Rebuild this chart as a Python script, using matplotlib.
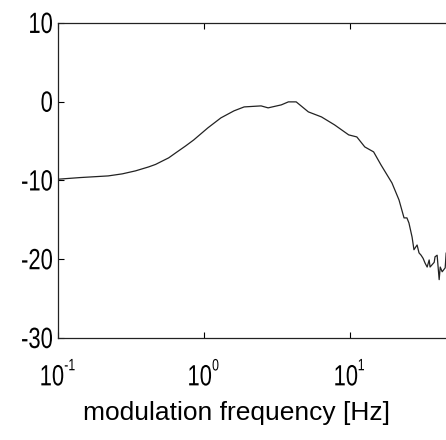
import numpy as np
import matplotlib
matplotlib.use('Agg')
import matplotlib.pyplot as plt
from matplotlib.textpath import TextPath
from matplotlib.patches import PathPatch
from matplotlib.path import Path
from matplotlib.font_manager import FontProperties
from matplotlib.transforms import Affine2D, IdentityTransform

# Frecuencia de modulación (Hz) y respuesta (dB)
freq = [0.100, 0.142, 0.221, 0.276, 0.340, 0.418, 0.467, 0.522, 0.574, 0.641,
        0.751, 0.853, 1.066, 1.31, 1.61, 1.89, 2.47, 2.76, 3.40, 3.80,
        4.30, 5.21, 6.41, 7.88, 9.85, 11.2, 12.7, 14.6, 16.4, 19.5,
        21.8, 23.6, 24.7, 25.5, 26.8, 27.6, 29.0, 29.9, 30.9, 31.9,
        32.9, 34.0, 35.1, 35.6, 38.0, 38.5, 39.8, 41.1, 41.8, 43.1,
        45.2, 45.9, 47.4]
gain_db = [-9.85, -9.64, -9.43, -9.17, -8.79, -8.29, -7.97, -7.52, -7.14, -6.51,
           -5.62, -4.86, -3.33, -2.06, -1.17, -0.67, -0.54, -0.79, -0.41, -0.03,
           -0.03, -1.30, -1.94, -2.95, -4.22, -4.48, -5.75, -6.38, -8.03, -10.32,
           -12.48, -14.76, -14.76, -15.4, -17.2, -18.8, -18.2, -19.2, -19.5, -19.9,
           -20.5, -21.0, -20.1, -21.0, -20.4, -19.7, -19.5, -22.6, -21.0, -21.6,
           -21.1, -19.2, -19.1]

y_ticks = [10, 0, -10, -20, -30]
x_ticks = [0.1, 1, 10]
x_exponents = ['-1', '0', '1']

fp = FontProperties(family='Liberation Sans')
NARROW = 0.75  # las etiquetas del original salen comprimidas


def label_path(main, sup=None, size=29.3, sup_size=16.5):
    # texto estrecho hecho con TextPath (no hay fuente "narrow" instalada)
    p = TextPath((0, 0), main, size=size, prop=fp)
    p = Affine2D().scale(NARROW, 1).transform_path(p)
    if sup is None:
        return p
    e = p.get_extents()
    q = TextPath((0, 0), sup, size=sup_size, prop=fp)
    q = Affine2D().scale(NARROW, 1).transform_path(q)
    qe = q.get_extents()
    q = Affine2D().translate(e.x1 + 1.5 - qe.x0, e.y1 + 6 - qe.y1).transform_path(q)
    return Path.make_compound_path(p, q), e


def put(fig, path, dx, dy):
    fig.add_artist(PathPatch(Affine2D().translate(dx, dy).transform_path(path),
                             facecolor='black', edgecolor='none', lw=0,
                             transform=IdentityTransform()))


fig = plt.figure(figsize=(4.46, 4.40), dpi=100)
ax = fig.add_axes([0.130, 0.232, 0.875, 0.716])

ax.plot(freq, gain_db, color='#222222', lw=0.9)

ax.set_xscale('log')
ax.set_xlim(0.1, 10 ** 1.676)
ax.set_ylim(-30, 10)
ax.set_xticks(x_ticks)
ax.xaxis.set_minor_locator(matplotlib.ticker.NullLocator())
ax.set_yticks(y_ticks)
ax.tick_params(axis='both', direction='in', length=4, width=0.8,
               top=True, right=False, labelleft=False, labelbottom=False)
for s in ax.spines.values():
    s.set_linewidth(0.9)
    s.set_color('#222222')
ax.spines['right'].set_visible(False)

# etiquetas del eje y
for v in y_ticks:
    x0, y0 = ax.transData.transform((x_ticks[0], v))
    p = label_path(str(v))
    e = p.get_extents()
    put(fig, p, x0 - 6 - e.x1, y0 - (e.y0 + e.y1) / 2)

# etiquetas del eje x (10 con exponente)
ybot = ax.transData.transform((x_ticks[0], -30))[1]
for t, ex in zip(x_ticks, x_exponents):
    x0, _ = ax.transData.transform((t, -30))
    p, e_main = label_path('10', ex)
    e = p.get_extents()
    put(fig, p, x0 - (e.x0 + e.x1) / 2, ybot - 27 - e_main.y1)

fig.text(236.5 / 446, 1 - 420 / 440, 'modulation frequency [Hz]', fontsize=19,
         family='Liberation Sans', ha='center', va='baseline')

fig.savefig('out.png', dpi=100)
